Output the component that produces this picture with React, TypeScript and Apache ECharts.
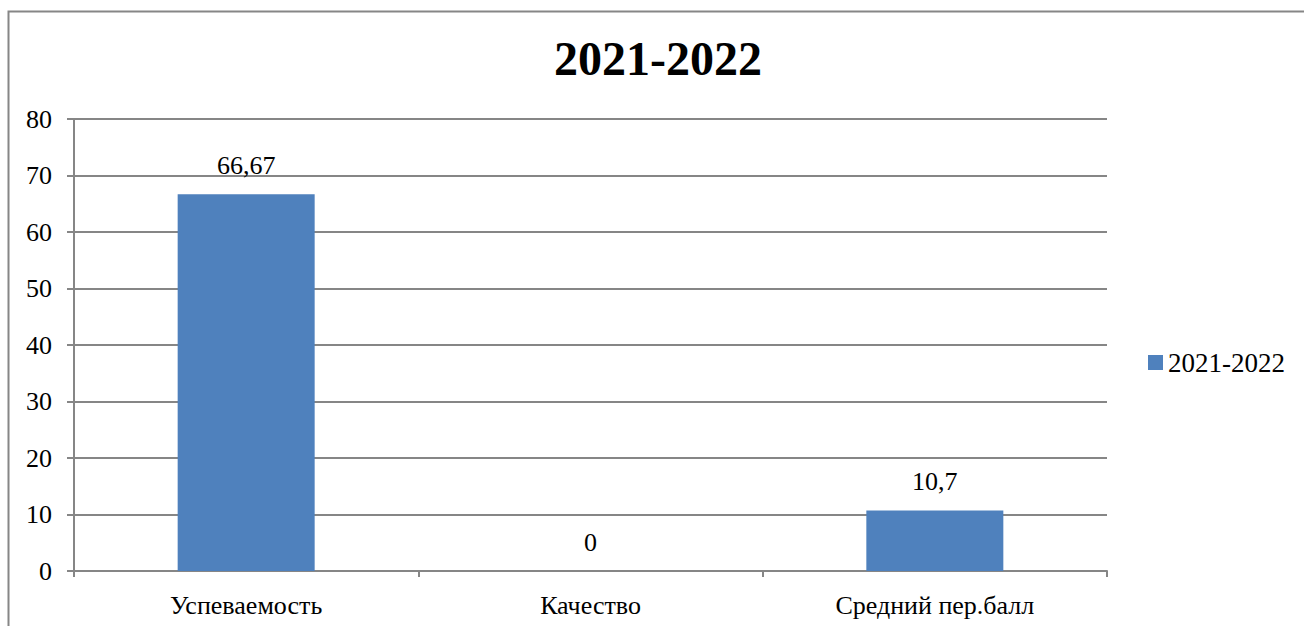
import React, { useEffect, useRef } from "react";
import * as echarts from "echarts";

const title = "2021-2022";
const seriesName = "2021-2022";
const categories = ["Успеваемость", "Качество", "Средний пер.балл"];
const values = [66.67, 0, 10.7];
const yTicks = { min: 0, max: 80, interval: 10 };

const FONT = "Liberation Serif";
const GRAY = "#868686";

export default function App() {
  const ref = useRef<HTMLDivElement>(null);
  useEffect(() => {
    if (!ref.current) return;
    const chart = echarts.init(ref.current, null, { renderer: "svg" });
    chart.setOption({
      animation: false,
      backgroundColor: "#ffffff",
      textStyle: { fontFamily: FONT },
      title: {
        text: title,
        left: 653,
        textAlign: "center",
        top: 29,
        textStyle: { fontFamily: FONT, fontSize: 48, fontWeight: "bold", color: "#000" },
      },
      legend: {
        data: [seriesName],
        left: 1143,
        top: 344,
        itemWidth: 15,
        itemHeight: 15,
        itemGap: 4,
        icon: "rect",
        textStyle: { fontFamily: FONT, fontSize: 27, color: "#000" },
      },
      graphic: [
        {
          type: "rect",
          shape: { x: 8.5, y: 11.5, width: 1400, height: 700 },
          style: { fill: "none", stroke: GRAY, lineWidth: 2 },
          silent: true,
        },
      ],
      grid: { left: 74, right: 197, top: 119, bottom: 55, containLabel: false },
      xAxis: {
        type: "category",
        data: categories,
        axisLine: { lineStyle: { color: GRAY, width: 2 } },
        axisTick: { show: true, length: 6, lineStyle: { color: GRAY, width: 2 }, alignWithLabel: false },
        axisLabel: { fontFamily: FONT, fontSize: 26, color: "#000", margin: 21 },
      },
      yAxis: {
        type: "value",
        min: yTicks.min,
        max: yTicks.max,
        interval: yTicks.interval,
        axisLine: { show: true, lineStyle: { color: GRAY, width: 2 } },
        axisTick: { show: true, inside: false, length: 7, lineStyle: { color: GRAY, width: 2 } },
        axisLabel: { fontFamily: FONT, fontSize: 26, color: "#000", margin: 22 },
        splitLine: { show: true, lineStyle: { color: GRAY, width: 2 } },
      },
      series: [
        {
          name: seriesName,
          type: "bar",
          data: values,
          barWidth: 137,
          itemStyle: { color: "#4F81BD" },
          label: {
            show: true,
            position: "top",
            distance: 16,
            fontFamily: FONT,
            fontSize: 26,
            color: "#000",
            formatter: (p: any) => String(p.value).replace(".", ","),
          },
        },
      ],
    });
    return () => chart.dispose();
  }, []);
  return (
    <div
      ref={ref}
      style={{ position: "absolute", left: 0, top: 0, width: 1304, height: 626 }}
    />
  );
}
